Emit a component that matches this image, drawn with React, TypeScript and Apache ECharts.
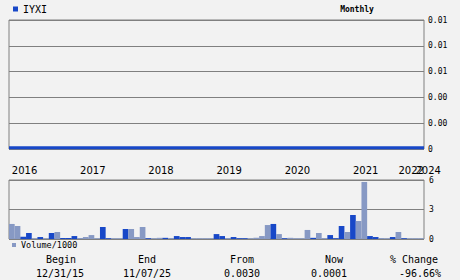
import React, { useEffect, useRef } from "react";
import * as echarts from "echarts";

// Monthly volume (thousands), Dec 2015 .. end
const volumes: number[] = [
  1.53, 1.32, 0.23, 0.61, 0.08, 0.2, 0.08, 0.61, 0.71, 0.1,
  0.1, 0.3, 0.1, 0.2, 0.4, 0.08, 1.22, 0.08, 0.08, 0.08,
  1.02, 1.02, 0.2, 1.22, 0.08, 0.08, 0.12, 0.12, 0.1, 0.3,
  0.2, 0.2, 0.08, 0.08, 0.08, 0.08, 0.5, 0.3, 0.1, 0.2,
  0.08, 0.08, 0.08, 0.12, 0.3, 1.42, 1.53, 0.5, 0.08, 0.12,
  0.08, 0.08, 0.92, 0.12, 0.61, 0.1, 0.4, 0.08, 1.32, 0.71,
  2.44, 1.83, 5.8, 0.3, 0.2, 0.1, 0.08, 0.2, 0.71, 0.08,
  0.08, 0.08, 0.08,
];

// B = dark blue bar, G = grey bar
const volumeTone: string[] = [
  "GGBBGBGBGB",
  "BBGGGGBBGG",
  "BGGGBGGBGB",
  "BBGGGGBBGB",
  "BBGGGGBGBG",
  "GGGBGGBBBG",
  "BGGBBGGBGB",
  "GGG",
];

// Monthly close
const prices: number[] = [
  0.0001, 0.0001, 0.0001, 0.0001, 0.0001, 0.0001, 0.0001, 0.0001, 0.0001, 0.0001,
  0.0001, 0.0001, 0.0001, 0.0001, 0.0001, 0.0001, 0.0001, 0.0001, 0.0001, 0.0001,
  0.0001, 0.0001, 0.0001, 0.0001, 0.0001, 0.0001, 0.0001, 0.0001, 0.0001, 0.0001,
  0.0001, 0.0001, 0.0001, 0.0001, 0.0001, 0.0001, 0.0001, 0.0001, 0.0001, 0.0001,
  0.0001, 0.0001, 0.0001, 0.0001, 0.0001, 0.0001, 0.0001, 0.0001, 0.0001, 0.0001,
  0.0001, 0.0001, 0.0001, 0.0001, 0.0001, 0.0001, 0.0001, 0.0001, 0.0001, 0.0001,
  0.0001, 0.0001, 0.0001, 0.0001, 0.0001, 0.0001, 0.0001, 0.0001, 0.0001, 0.0001,
  0.0001, 0.0001, 0.0001,
];

// Year tick labels by month index (last one drawn on its own axis, it overlaps)
const yearIndexes: number[] = [0, 12, 24, 36, 48, 60, 68];
const yearLabels: string[] = ["2016", "2017", "2018", "2019", "2020", "2021", "2022"];
const lastYearIndex = 71;
const lastYearLabel = "2024";

const priceTicks = { min: 0, max: 0.01, interval: 0.002 };
const volumeTicks = { min: 0, max: 6, interval: 3 };

const summaryHeads: string[] = ["Begin", "End", "From", "Now", "% Change"];
const summaryValues: string[] = ["12/31/15", "11/07/25", "0.0030", "0.0001", "-96.66%"];

const BLUE = "#1848c8";
const GREY = "#8799c4";
const GRID = "#808080";
const MONO = "DejaVu Sans Mono";

export default function App() {
  const ref = useRef<HTMLDivElement>(null);

  useEffect(() => {
    if (!ref.current) return;
    const chart = echarts.init(ref.current, null, { renderer: "svg" });
    const categories = volumes.map((_, i) => String(i));
    const tones = volumeTone.join("");
    const yearAt = (i: number) => {
      const k = yearIndexes.indexOf(i);
      return k >= 0 ? yearLabels[k] : "";
    };

    const headX = [61, 147, 242, 334, 414];
    const valX = [60, 147, 242, 329, 420];

    const graphics: any[] = [
      {
        type: "text",
        x: 357,
        y: 9,
        style: {
          text: "Monthly",
          font: `bold 8px ${MONO}`,
          fill: "#000",
          align: "center",
          verticalAlign: "middle",
        },
      },
    ];
    summaryHeads.forEach((t, i) => {
      graphics.push({
        type: "text",
        x: headX[i],
        y: 259,
        style: { text: t, font: `10px ${MONO}`, fill: "#000", align: "center", verticalAlign: "middle" },
      });
      graphics.push({
        type: "text",
        x: valX[i],
        y: 273,
        style: { text: summaryValues[i], font: `10px ${MONO}`, fill: "#000", align: "center", verticalAlign: "middle" },
      });
    });

    const yearLabelStyle = {
      align: "left",
      margin: 5,
      fontFamily: "DejaVu Sans",
      fontSize: 10,
      color: "#000",
      hideOverlap: false,
    };

    const option: any = {
      animation: false,
      backgroundColor: "#f2f2f2",
      textStyle: { fontFamily: MONO },
      grid: [
        { left: 9, right: 36, top: 20, height: 129, show: true, borderColor: GRID, borderWidth: 1, backgroundColor: "transparent" },
        { left: 9, right: 36, top: 180, height: 59, show: true, borderColor: GRID, borderWidth: 1, backgroundColor: "transparent" },
      ],
      legend: [
        {
          data: [{ name: "IYXI" }],
          left: 13,
          top: 3,
          padding: 0,
          itemWidth: 5,
          itemHeight: 5,
          icon: "rect",
          selectedMode: false,
          textStyle: { fontFamily: MONO, fontSize: 10, color: "#000", lineHeight: 12 },
        },
        {
          data: [{ name: "Volume/1000" }],
          left: 12,
          top: 240,
          padding: 0,
          itemWidth: 4,
          itemHeight: 4,
          icon: "rect",
          selectedMode: false,
          textStyle: { fontFamily: MONO, fontSize: 8.5, color: "#000", lineHeight: 10 },
        },
      ],
      xAxis: [
        { type: "category", gridIndex: 0, data: categories, boundaryGap: false, show: false },
        {
          type: "category",
          gridIndex: 1,
          data: categories,
          position: "top",
          axisLine: { show: false },
          axisTick: { show: false },
          axisLabel: {
            ...yearLabelStyle,
            interval: (i: number) => yearIndexes.indexOf(i) >= 0,
            formatter: (_v: string, i: number) => yearAt(i),
          },
        },
        {
          type: "category",
          gridIndex: 1,
          data: categories,
          position: "top",
          axisLine: { show: false },
          axisTick: { show: false },
          splitLine: { show: false },
          axisLabel: {
            ...yearLabelStyle,
            interval: (i: number) => i === lastYearIndex,
            formatter: (_v: string, i: number) => (i === lastYearIndex ? lastYearLabel : ""),
          },
        },
      ],
      yAxis: [
        {
          type: "value",
          gridIndex: 0,
          position: "right",
          ...priceTicks,
          axisLine: { show: false },
          axisTick: { show: false },
          splitLine: { show: true, lineStyle: { color: GRID, width: 1 } },
          axisLabel: {
            formatter: (v: number) => (v === 0 ? "0" : v.toFixed(2)),
            fontFamily: MONO,
            fontSize: 8,
            color: "#000",
            margin: 4,
            padding: [4, 0, 0, 0],
          },
        },
        {
          type: "value",
          gridIndex: 1,
          position: "right",
          ...volumeTicks,
          axisLine: { show: false },
          axisTick: { show: false },
          splitLine: { show: true, lineStyle: { color: GRID, width: 1 } },
          axisLabel: {
            fontFamily: MONO,
            fontSize: 8,
            color: "#000",
            margin: 5,
            padding: [3, 0, 0, 0],
          },
        },
      ],
      series: [
        {
          name: "IYXI",
          type: "line",
          xAxisIndex: 0,
          yAxisIndex: 0,
          data: prices,
          symbol: "none",
          color: BLUE,
          lineStyle: { color: BLUE, width: 3 },
          z: 5,
        },
        {
          name: "Volume/1000",
          type: "bar",
          xAxisIndex: 1,
          yAxisIndex: 1,
          barCategoryGap: 0,
          barGap: 0,
          color: GREY,
          itemStyle: { color: GREY },
          data: volumes.map((v, i) => ({
            value: v,
            itemStyle: { color: tones[i] === "B" ? BLUE : GREY },
          })),
          z: 3,
        },
      ],
      graphic: graphics,
    };

    chart.setOption(option);
    return () => chart.dispose();
  }, []);

  return (
    <div
      ref={ref}
      style={{ position: "fixed", left: 0, top: 0, width: 460, height: 280, background: "#f2f2f2" }}
    />
  );
}
